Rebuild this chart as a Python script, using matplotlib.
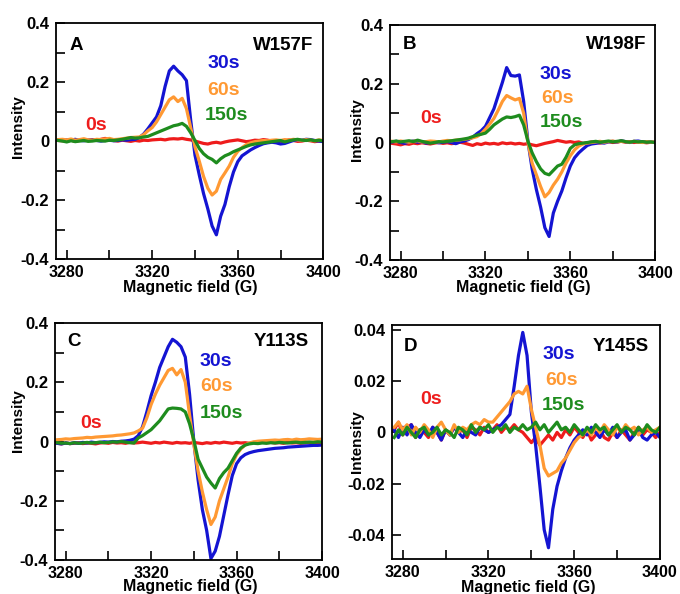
import matplotlib
matplotlib.use('Agg')
import matplotlib.pyplot as plt
from matplotlib.ticker import MultipleLocator, FuncFormatter

plt.rcParams['font.family'] = ['Liberation Sans', 'DejaVu Sans']
plt.rcParams['font.weight'] = 'bold'

# magnetic field grid (G), one point every 2 G
field = list(range(3276, 3401, 2))

# ---- panel A : W157F ----
a_30s = [0.003, 0.002, 0.004, 0.003, 0.006, 0.002, 0.001, 0.003, 0.004, 0.002,
         0.000, 0.002, 0.003, 0.001, 0.002, 0.004, 0.003, 0.005, 0.006, 0.012,
         0.024, 0.042, 0.062, 0.082, 0.120, 0.185, 0.238, 0.254, 0.238, 0.225,
         0.205, 0.070, -0.048, -0.115, -0.178, -0.230, -0.288, -0.318, -0.255, -0.215,
         -0.155, -0.105, -0.070, -0.050, -0.040, -0.030, -0.022, -0.015, -0.009, -0.006,
         -0.004, -0.006, -0.010, -0.008, -0.003, 0.002, 0.004, 0.003, 0.006, 0.005,
         0.002, 0.000, -0.002]
a_60s = [0.005, 0.006, 0.004, 0.007, 0.003, 0.005, 0.008, 0.004, 0.003, 0.006,
         0.005, 0.007, 0.009, 0.005, 0.006, 0.008, 0.010, 0.012, 0.013, 0.014,
         0.022, 0.035, 0.046, 0.065, 0.090, 0.115, 0.140, 0.150, 0.134, 0.145,
         0.110, 0.045, -0.020, -0.068, -0.120, -0.160, -0.183, -0.170, -0.130, -0.108,
         -0.085, -0.055, -0.035, -0.022, -0.012, -0.006, -0.002, 0.000, 0.002, 0.001,
         0.003, 0.004, 0.002, 0.005, 0.003, 0.006, 0.004, 0.002, 0.005, 0.003,
         0.001, 0.004, 0.002]
a_150s = [0.002, 0.000, -0.003, 0.001, -0.002, 0.000, 0.002, -0.001, 0.000, 0.002,
          0.001, 0.000, 0.003, 0.002, 0.004, 0.006, 0.009, 0.012, 0.010, 0.011,
          0.014, 0.016, 0.022, 0.028, 0.034, 0.040, 0.046, 0.052, 0.055, 0.060,
          0.050, 0.028, 0.002, -0.025, -0.043, -0.055, -0.062, -0.074, -0.060, -0.050,
          -0.044, -0.036, -0.030, -0.024, -0.018, -0.013, -0.010, -0.008, -0.006, -0.004,
          -0.002, 0.000, 0.002, -0.003, 0.001, 0.004, 0.006, 0.003, 0.002, 0.004,
          0.001, 0.003, 0.000]
a_0s = [0.002, 0.001, 0.000, 0.003, -0.001, 0.002, 0.004, 0.003, 0.005, 0.002,
        0.006, 0.009, 0.005, 0.002, 0.000, 0.003, 0.001, -0.001, 0.002, 0.000,
        0.003, 0.002, 0.004, 0.005, 0.006, 0.004, 0.007, 0.008, 0.007, 0.009,
        0.006, 0.004, 0.000, -0.004, -0.008, -0.010, -0.006, -0.004, -0.007, -0.003,
        0.000, 0.002, 0.004, 0.001, -0.002, 0.000, 0.003, 0.002, 0.005, 0.003,
        0.000, -0.003, -0.002, 0.001, 0.004, 0.002, -0.001, 0.000, 0.003, 0.001,
        -0.002, 0.000, 0.002]

# ---- panel B : W198F ----
b_30s = [0.002, 0.004, 0.000, -0.003, 0.002, 0.005, 0.001, 0.003, -0.002, 0.000,
         0.002, -0.001, 0.001, 0.003, 0.000, -0.004, 0.002, 0.005, 0.010, 0.018,
         0.030, 0.040, 0.055, 0.085, 0.115, 0.160, 0.205, 0.255, 0.228, 0.226,
         0.230, 0.140, 0.005, -0.090, -0.160, -0.220, -0.290, -0.320, -0.240, -0.200,
         -0.165, -0.120, -0.080, -0.052, -0.035, -0.022, -0.010, -0.005, -0.003, 0.000,
         -0.002, 0.002, 0.004, 0.001, 0.006, 0.003, 0.000, 0.004, 0.005, 0.002,
         0.003, 0.001, 0.000]
b_60s = [0.004, 0.002, 0.005, 0.003, 0.001, 0.004, 0.006, 0.002, 0.003, 0.005,
         0.004, 0.002, 0.005, 0.007, 0.006, 0.008, 0.009, 0.011, 0.013, 0.016,
         0.020, 0.030, 0.045, 0.063, 0.082, 0.110, 0.140, 0.160, 0.152, 0.145,
         0.150, 0.100, 0.000, -0.070, -0.110, -0.150, -0.185, -0.170, -0.145, -0.125,
         -0.100, -0.070, -0.045, -0.025, -0.012, -0.005, -0.002, 0.000, 0.002, 0.004,
         0.001, 0.003, 0.005, 0.002, 0.004, 0.003, 0.001, 0.004, 0.002, 0.000,
         0.003, 0.001, 0.002]
b_150s = [0.003, 0.005, 0.002, 0.004, 0.006, 0.003, 0.008, 0.004, 0.001, -0.002,
          0.000, 0.003, 0.002, 0.004, 0.006, 0.008, 0.010, 0.012, 0.015, 0.020,
          0.025, 0.028, 0.032, 0.045, 0.060, 0.070, 0.080, 0.087, 0.085, 0.088,
          0.093, 0.060, 0.005, -0.035, -0.065, -0.090, -0.105, -0.110, -0.095, -0.080,
          -0.074, -0.050, -0.020, -0.008, -0.004, -0.002, 0.000, 0.002, 0.004, 0.001,
          0.003, 0.005, 0.002, 0.004, 0.006, 0.003, 0.001, 0.004, 0.002, 0.003,
          0.001, 0.002, 0.000]
b_0s = [-0.003, -0.005, -0.008, -0.004, -0.006, -0.002, -0.004, -0.001, -0.003, -0.005,
        -0.002, 0.000, -0.003, -0.001, -0.004, -0.002, 0.001, -0.002, -0.006, -0.010,
        -0.004, -0.007, -0.002, -0.005, -0.003, -0.006, -0.001, -0.004, -0.002, -0.005,
        -0.003, -0.006, -0.004, -0.008, -0.011, -0.007, -0.003, 0.000, 0.003, 0.007,
        0.004, 0.001, 0.003, 0.000, 0.002, -0.003, -0.001, 0.002, 0.000, -0.002,
        0.001, 0.003, 0.000, 0.002, 0.004, 0.001, 0.003, 0.000, 0.002, 0.001,
        -0.001, 0.001, 0.000]

# ---- panel C : Y113S ----
c_30s = [-0.006, -0.008, -0.005, -0.007, -0.004, -0.006, -0.003, -0.005, -0.002, -0.004,
         -0.003, -0.001, -0.002, 0.000, -0.001, 0.001, 0.002, 0.004, 0.008, 0.020,
         0.050, 0.100, 0.155, 0.200, 0.250, 0.285, 0.320, 0.345, 0.335, 0.320,
         0.285, 0.160, 0.000, -0.130, -0.230, -0.300, -0.395, -0.370, -0.320, -0.250,
         -0.180, -0.115, -0.075, -0.055, -0.044, -0.038, -0.034, -0.031, -0.029, -0.027,
         -0.025, -0.023, -0.022, -0.021, -0.019, -0.018, -0.017, -0.016, -0.015, -0.014,
         -0.013, -0.013, -0.012]
c_60s = [0.006, 0.007, 0.009, 0.008, 0.010, 0.011, 0.012, 0.014, 0.013, 0.015,
         0.016, 0.017, 0.018, 0.019, 0.021, 0.022, 0.024, 0.026, 0.029, 0.036,
         0.045, 0.080, 0.125, 0.160, 0.190, 0.215, 0.240, 0.247, 0.225, 0.243,
         0.200, 0.090, -0.010, -0.100, -0.170, -0.230, -0.280, -0.255, -0.200, -0.160,
         -0.120, -0.075, -0.045, -0.025, -0.012, -0.005, -0.001, 0.001, 0.002, 0.003,
         0.004, 0.005, 0.004, 0.006, 0.007, 0.005, 0.008, 0.006, 0.007, 0.009,
         0.008, 0.007, 0.008]
c_150s = [-0.004, -0.006, -0.005, -0.007, -0.004, -0.006, -0.005, -0.003, -0.005, -0.004,
          -0.002, -0.004, -0.003, -0.001, -0.002, 0.000, -0.002, -0.004, -0.005, 0.012,
          0.020, 0.030, 0.040, 0.055, 0.070, 0.090, 0.110, 0.113, 0.112, 0.110,
          0.100, 0.060, 0.005, -0.060, -0.090, -0.120, -0.140, -0.157, -0.125, -0.105,
          -0.090, -0.065, -0.040, -0.022, -0.012, -0.008, -0.006, -0.007, -0.005, -0.006,
          -0.004, -0.005, -0.003, -0.004, -0.005, -0.003, -0.002, -0.004, -0.003, -0.002,
          -0.003, -0.001, -0.002]
c_0s = [-0.006, -0.008, -0.005, -0.007, -0.006, -0.004, -0.007, -0.005, -0.006, -0.008,
        -0.005, -0.004, -0.006, -0.003, -0.005, -0.004, -0.006, -0.003, -0.005, -0.004,
        -0.002, -0.004, -0.006, -0.003, -0.005, -0.002, -0.004, -0.006, -0.003, -0.005,
        -0.004, -0.006, -0.003, -0.005, -0.007, -0.004, -0.006, -0.003, -0.005, -0.002,
        -0.004, -0.006, -0.003, -0.005, -0.004, -0.006, -0.003, -0.005, -0.002, -0.004,
        -0.003, -0.005, -0.004, -0.006, -0.003, -0.005, -0.004, -0.006, -0.005, -0.003,
        -0.004, -0.006, -0.005]

# ---- panel D : Y145S ----
d_30s = [0.001, -0.002, 0.002, -0.001, 0.003, 0.000, -0.002, 0.001, -0.001, 0.002,
         0.000, -0.003, 0.001, -0.001, 0.002, 0.000, -0.002, 0.001, 0.000, -0.001,
         0.002, 0.001, 0.000, 0.001, 0.002, 0.003, 0.005, 0.007, 0.018, 0.030,
         0.039, 0.030, 0.008, -0.005, -0.021, -0.038, -0.045, -0.030, -0.021, -0.015,
         -0.010, -0.006, -0.003, -0.001, 0.001, -0.001, 0.002, 0.000, -0.002, 0.001,
         -0.001, 0.002, -0.002, 0.000, 0.001, -0.003, -0.001, 0.001, -0.002, -0.003,
         -0.001, 0.000, -0.002]
d_60s = [0.002, 0.004, 0.001, 0.003, -0.001, 0.002, 0.000, 0.003, 0.001, -0.002,
         0.002, 0.004, 0.001, -0.001, 0.003, 0.000, 0.002, 0.001, 0.003, 0.004,
         0.003, 0.005, 0.004, 0.004, 0.006, 0.008, 0.010, 0.012, 0.015, 0.016,
         0.015, 0.018, 0.009, 0.002, -0.005, -0.014, -0.017, -0.016, -0.015, -0.012,
         -0.010, -0.007, -0.004, -0.002, -0.001, 0.001, -0.001, 0.002, 0.000, 0.003,
         0.001, -0.001, 0.002, 0.000, 0.003, 0.001, 0.002, -0.001, 0.001, 0.002,
         0.000, 0.001, 0.002]
d_150s = [-0.002, 0.001, -0.001, 0.002, 0.000, -0.002, 0.001, 0.002, -0.001, 0.000,
          0.002, -0.001, 0.001, 0.000, -0.002, 0.002, 0.001, -0.001, 0.003, 0.000,
          0.002, 0.001, 0.003, 0.000, 0.002, 0.001, 0.003, 0.000, 0.002, 0.001,
          0.003, 0.001, 0.002, 0.004, 0.001, 0.003, 0.000, 0.002, 0.004, 0.001,
          0.002, 0.000, 0.003, 0.001, -0.001, 0.002, 0.000, 0.003, 0.001, 0.002,
          -0.001, 0.001, 0.003, 0.000, 0.002, 0.001, -0.001, 0.002, 0.000, 0.003,
          0.001, 0.000, 0.002]
d_0s = [0.001, 0.004, -0.001, 0.002, 0.003, -0.002, 0.001, 0.000, -0.002, 0.002,
        0.000, -0.003, 0.001, -0.001, 0.002, 0.000, 0.001, -0.002, 0.002, 0.001,
        -0.001, 0.002, 0.000, 0.001, 0.003, 0.000, 0.002, 0.001, 0.003, 0.001,
        0.000, -0.002, -0.004, -0.002, -0.005, -0.003, -0.001, -0.003, 0.000, -0.002,
        0.001, -0.001, 0.002, 0.000, -0.002, 0.001, -0.003, -0.001, 0.001, -0.002,
        -0.003, 0.000, -0.002, 0.001, -0.001, -0.003, 0.000, 0.002, -0.001, 0.001,
        0.000, -0.002, 0.000]

times = ['0s', '30s', '60s', '150s']
colors = {'0s': '#ee1c1c', '30s': '#1414d2', '60s': '#ff9933', '150s': '#1e8c1e'}

panels = [
    {'letter': 'A', 'name': 'W157F', 'series': {'0s': a_0s, '30s': a_30s, '60s': a_60s, '150s': a_150s},
     'rect': [0.0824, 0.564, 0.393, 0.397], 'ylim': (-0.4, 0.4), 'major': 0.2, 'minor': 0.1,
     'ylab': (-0.142, 0.56), 'xlab': (0.504, -0.12),
     'txt': {'0s': (0.109, 0.564), '30s': (0.566, 0.83), '60s': (0.566, 0.716), '150s': (0.558, 0.61)},
     'head_y': 0.907, 'letter_x': 0.052, 'name_x': 0.963},
    {'letter': 'B', 'name': 'W198F', 'series': {'0s': b_0s, '30s': b_30s, '60s': b_60s, '150s': b_150s},
     'rect': [0.5735, 0.5623, 0.390, 0.3956], 'ylim': (-0.4, 0.4), 'major': 0.2, 'minor': 0.1,
     'ylab': (-0.126, 0.553), 'xlab': (0.501, -0.116),
     'txt': {'0s': (0.113, 0.603), '30s': (0.563, 0.79), '60s': (0.57, 0.688), '150s': (0.566, 0.584)},
     'head_y': 0.915, 'letter_x': 0.05, 'name_x': 0.966},
    {'letter': 'C', 'name': 'Y113S', 'series': {'0s': c_0s, '30s': c_30s, '60s': c_60s, '150s': c_150s},
     'rect': [0.0809, 0.0572, 0.3926, 0.399], 'ylim': (-0.4, 0.4), 'major': 0.2, 'minor': 0.1,
     'ylab': (-0.137, 0.59), 'xlab': (0.506, -0.113),
     'txt': {'0s': (0.094, 0.577), '30s': (0.54, 0.837), '60s': (0.543, 0.731), '150s': (0.543, 0.619)},
     'head_y': 0.921, 'letter_x': 0.044, 'name_x': 0.949},
    {'letter': 'D', 'name': 'Y145S', 'series': {'0s': d_0s, '30s': d_30s, '60s': d_60s, '150s': d_150s},
     'rect': [0.5765, 0.0589, 0.394, 0.394], 'ylim': (-0.0494, 0.0419), 'major': 0.02, 'minor': None,
     'ylab': (-0.132, 0.50), 'xlab': (0.509, -0.12),
     'txt': {'0s': (0.104, 0.68), '30s': (0.562, 0.872), '60s': (0.571, 0.762), '150s': (0.559, 0.654)},
     'head_y': 0.907, 'letter_x': 0.045, 'name_x': 0.96},
]


def tick_fmt(v, pos):
    if abs(v) < 1e-9:
        return '0'
    return '%g' % round(v, 4)


fig = plt.figure(figsize=(6.8, 5.94), dpi=100)

for p in panels:
    ax = fig.add_axes(p['rect'])
    # red first, green on top
    for t in ['0s', '30s', '60s', '150s']:
        ax.plot(field, p['series'][t], color=colors[t], lw=2.3, solid_joinstyle='round')

    ax.set_xlim(3275, 3400)
    ax.set_ylim(*p['ylim'])
    ax.xaxis.set_major_locator(MultipleLocator(40))
    ax.xaxis.set_minor_locator(MultipleLocator(20))
    ax.yaxis.set_major_locator(MultipleLocator(p['major']))
    if p['minor']:
        ax.yaxis.set_minor_locator(MultipleLocator(p['minor']))
    ax.yaxis.set_major_formatter(FuncFormatter(tick_fmt))
    ax.tick_params(which='both', direction='in', length=6.5, width=1.2,
                   top=False, right=False)
    ax.tick_params(axis='y', which='major', labelsize=12, pad=5)
    ax.tick_params(axis='x', which='major', labelsize=11.5, pad=4)
    for lab in ax.get_xticklabels() + ax.get_yticklabels():
        lab.set_fontweight('bold')
    for s in ax.spines.values():
        s.set_linewidth(1.3)

    ax.set_xlabel('Magnetic field (G)', fontsize=11.5, fontweight='bold')
    ax.xaxis.set_label_coords(*p['xlab'])
    ax.xaxis.label.set_va('center')
    ax.set_ylabel('Intensity', fontsize=11, fontweight='bold')
    ax.yaxis.set_label_coords(*p['ylab'])
    ax.yaxis.label.set_va('center')

    ax.text(p['letter_x'], p['head_y'], p['letter'], transform=ax.transAxes,
            fontsize=13.5, fontweight='bold', ha='left', va='center')
    ax.text(p['name_x'], p['head_y'], p['name'], transform=ax.transAxes,
            fontsize=13.5, fontweight='bold', ha='right', va='center')
    for t in times:
        x, y = p['txt'][t]
        ax.text(x, y, t, transform=ax.transAxes, color=colors[t],
                fontsize=14, fontweight='bold', ha='left', va='center')

fig.savefig('out.png', dpi=100)
